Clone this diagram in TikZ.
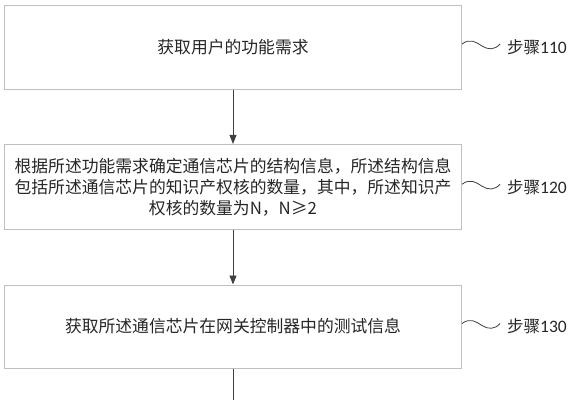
\documentclass[tikz,border=0pt]{standalone}
\usepackage{fontspec}
\setmainfont{Noto Sans CJK SC}
\newfontfamily\cjk{Noto Sans CJK SC}
\newfontfamily\labfont{Carlito}
\usetikzlibrary{arrows.meta}
\definecolor{boxline}{HTML}{BFBFBF}
\definecolor{arrowc}{HTML}{404040}
\definecolor{txt}{HTML}{262626}
\begin{document}
\begin{tikzpicture}[x=1pt,y=-1pt,
  stepbox/.style={draw=boxline, line width=1pt, minimum width=457pt, inner sep=0pt,
    font=\fontsize{16.8}{21}\selectfont, text=txt, align=center},
  flow/.style={draw=arrowc, line width=0.8pt, -{Triangle[length=9pt,width=7pt]}},
  tail/.style={draw=arrowc, line width=0.8pt},
  wave/.style={draw=arrowc, line width=0.8pt},
  steplabel/.style={anchor=west, inner sep=0pt, text=txt, font=\fontsize{16.5}{19}\selectfont}]
\useasboundingbox (0,0) rectangle (570,400);
\node[stepbox, minimum height=84pt] (b1) at (233,47) {获取用户的功能需求};
\node[stepbox, minimum height=85.5pt] (b2) at (233,187.2) {根据所述功能需求确定通信芯片的结构信息，所述结构信息\\包括所述通信芯片的知识产权核的数量，其中，所述知识产\\权核的数量为N，N≥2};
\node[stepbox, minimum height=83pt] (b3) at (233,326.5) {获取所述通信芯片在网关控制器中的测试信息};
\coordinate (end) at (233,400);
\draw[flow] (b1.south) -- (b2.north);
\draw[flow] (b2.south) -- (b3.north);
\draw[tail] (b3.south) -- (end);
\foreach \n/\y/\t in {1/47/110, 2/187.2/120, 3/326.5/130}{
  \coordinate (w\n) at (462,\y-3);
  \draw[wave] (w\n) .. controls (470,\y-9) and (476,\y-5) .. (482,\y-1)
      .. controls (488,\y+3) and (495,\y+3) .. (500,\y-3);
  \node[steplabel] (l\n) at (507,\y) {{\cjk 步骤}{\labfont\fontsize{17.5}{19}\selectfont\t}};
}
\end{tikzpicture}
\end{document}
